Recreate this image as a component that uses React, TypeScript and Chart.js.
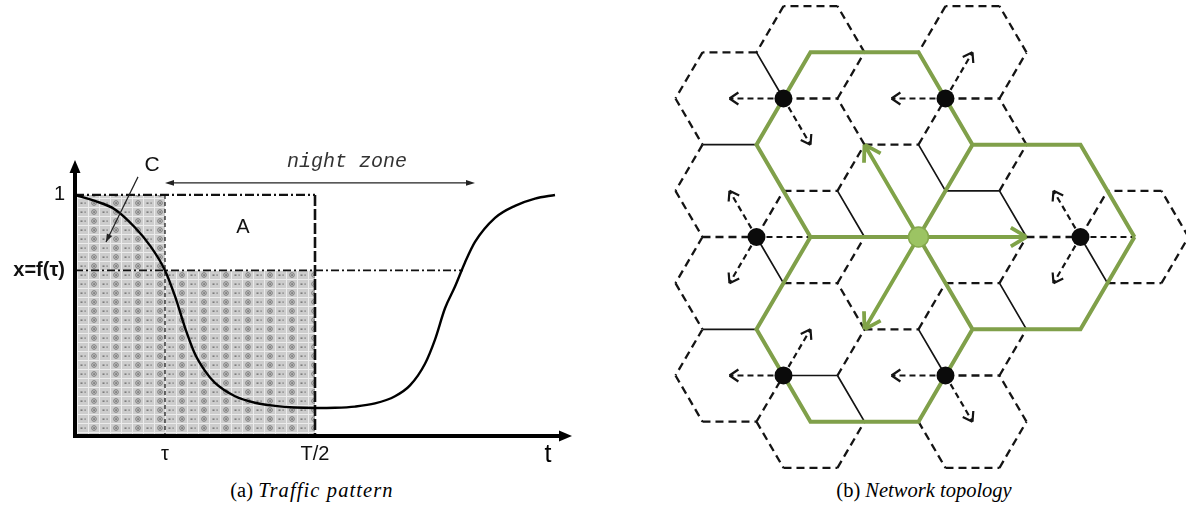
import React, { useEffect, useRef } from "react";
import { Chart, registerables } from "chart.js";

Chart.register(...registerables);

/* ---------- (a) traffic pattern ---------- */
// hour of the day, one period T = 24 h
const hours = [0, 1, 2, 3, 3.75, 4.5, 5, 5.5, 6, 6.5, 7, 8, 9, 10, 11, 12, 13, 14, 15, 16, 16.75, 17.5, 18, 18.5, 19, 19.5, 20, 21, 22, 23, 24];
// normalised traffic load
const load = [1.0, 0.975, 0.94, 0.865, 0.79, 0.687, 0.58, 0.45, 0.34, 0.27, 0.22, 0.165, 0.138, 0.125, 0.118, 0.116, 0.117, 0.122, 0.135, 0.165, 0.21, 0.3, 0.4, 0.53, 0.62, 0.72, 0.805, 0.905, 0.955, 0.985, 1.0];
const TAU = 4.5;
const HALF_T = 12;
const LOAD_AT_TAU = 0.687;
const LOAD_BACK_AT = 19.4; // hour at which the load climbs back to f(tau)
const NIGHT_FROM = 4.5;
const NIGHT_TO = 20;
const xTicks = [TAU, HALF_T];
const xTickText = ["τ", "T/2"];
const yTicks = [LOAD_AT_TAU, 1];
const yTickText = ["x=f(τ)", "1"];

/* ---------- (b) network topology ---------- */
const SQ3 = Math.sqrt(3);
// small cells of a flat-top hexagonal lattice: column and row (a row step is half a cell height)
const cellCol = [-1, -1, -1, -1, 0, 0, 0, 0, 0, 1, 1, 1, 1, 2, 2, 2, 2, 2, 3, 3, 4];
const cellRow = [-1, 1, 3, 5, -2, 0, 2, 4, 6, -1, 1, 3, 5, -2, 0, 2, 4, 6, 1, 3, 2];
// sides drawn as thin solid lines: column, row, side (0 = upper-right, 1 = top, ... counter-clockwise)
const solidSides = [
  [-1, -1, 0], [-1, -1, 4], [0, 2, 0], [1, 1, 0], [2, 2, 1], [2, 2, 0], [2, 4, 0],
  [3, 3, 0], [1, 5, 0], [-1, 3, 0], [-1, 3, 4], [0, 6, 0], [0, 6, 1],
];
// sleeping base stations on lattice corners: column, row, corner (0 = right, 3 = left)
const stationCorner = [[-1, -1, 0], [1, -1, 0], [0, 2, 3], [4, 2, 3], [-1, 5, 0], [1, 5, 0]];
// neighbour cells each station hands over to (arrows)
const stationArrows = [
  [[-1, -1], [0, 0]],
  [[1, -1], [2, -2]],
  [[-1, 1], [-1, 3]],
  [[3, 1], [3, 3]],
  [[-1, 5], [0, 4]],
  [[1, 5], [2, 6]],
];
// third neighbour cell of each station (plain link)
const stationLink = [[0, -2], [2, 0], [0, 2], [4, 2], [0, 6], [2, 4]];
// zoomed cells around the active station at the origin
const bigCenterX = [-1, 2, -1];
const bigCenterY = [SQ3, 0, -SQ3];
const BIG_RADIUS = 2;

type P = { x: number | null; y: number | null };

const cellCenter = (c: number, k: number) => ({ x: -2 + 1.5 * c, y: SQ3 - (SQ3 / 2) * k });
const hexCorner = (cx: number, cy: number, r: number, i: number) => ({
  x: cx + r * Math.cos((i * Math.PI) / 3),
  y: cy + r * Math.sin((i * Math.PI) / 3),
});
const keyOf = (p: { x: number; y: number }) => `${Math.round(p.x * 1000)},${Math.round(p.y * 1000)}`;
const edgeKey = (a: any, b: any) => {
  const p = keyOf(a), q = keyOf(b);
  return p < q ? p + "|" + q : q + "|" + p;
};
const toPath = (segs: any[][]): P[] => {
  const out: P[] = [];
  segs.forEach((s) => {
    s.forEach((p) => out.push({ x: p.x, y: p.y }));
    out.push({ x: null, y: null });
  });
  return out;
};
const chevron = (from: any, to: any, len: number, spread: number) => {
  const a = Math.atan2(to.y - from.y, to.x - from.x);
  return [a + Math.PI - spread, a + Math.PI + spread].map((t) => [
    to,
    { x: to.x + len * Math.cos(t), y: to.y + len * Math.sin(t) },
  ]);
};

// dotted grey texture used for area C
function stipple(ctx: CanvasRenderingContext2D) {
  const c = document.createElement("canvas");
  c.width = 22;
  c.height = 9;
  const g = c.getContext("2d")!;
  g.fillStyle = "#cdcdcd";
  g.fillRect(0, 0, 22, 9);
  g.fillStyle = "#ececec";
  g.fillRect(0, 0, 22, 1);
  g.fillRect(0, 0, 1, 9);
  g.fillRect(11, 0, 1, 9);
  g.strokeStyle = "#7a7a7a";
  g.lineWidth = 1;
  g.beginPath();
  g.arc(6, 5, 2.3, 0, Math.PI * 2);
  g.stroke();
  g.fillStyle = "#333";
  g.fillRect(5.4, 4.4, 1.3, 1.3);
  g.fillStyle = "#6a6a6a";
  g.fillRect(14.5, 4.5, 2, 1.3);
  g.fillRect(18.5, 4.5, 1.2, 1.2);
  return ctx.createPattern(c, "repeat")!;
}

const trafficDecor = {
  id: "trafficDecor",
  afterDatasetsDraw(chart: any) {
    const { ctx } = chart;
    const xs = chart.scales.x, ys = chart.scales.y;
    const X = (v: number) => xs.getPixelForValue(v);
    const Y = (v: number) => ys.getPixelForValue(v);
    const head = (tx: number, ty: number, dx: number, dy: number, len: number, half: number) => {
      ctx.beginPath();
      ctx.moveTo(tx, ty);
      ctx.lineTo(tx - dx * len - dy * half, ty - dy * len + dx * half);
      ctx.lineTo(tx - dx * len + dy * half, ty - dy * len - dx * half);
      ctx.closePath();
      ctx.fill();
    };
    ctx.save();
    ctx.strokeStyle = "#000";
    ctx.fillStyle = "#000";
    // axes with arrow tips
    const ox = X(0), oy = Y(0), xr = X(xs.max), yt = Y(ys.max);
    ctx.lineWidth = 4;
    ctx.beginPath();
    ctx.moveTo(ox, oy + 2);
    ctx.lineTo(ox, yt + 10);
    ctx.moveTo(ox - 2, oy);
    ctx.lineTo(xr - 10, oy);
    ctx.stroke();
    head(ox, yt, 0, -1, 13, 5.5);
    head(xr, oy, 1, 0, 13, 5.5);
    // axis name
    ctx.font = "25px 'Liberation Sans', Arial, sans-serif";
    ctx.textAlign = "center";
    ctx.textBaseline = "middle";
    ctx.fillText("t", xr - 24, oy + 19);

    // night zone span
    const ny = Y(1.05);
    ctx.lineWidth = 1.1;
    ctx.strokeStyle = "#222";
    ctx.fillStyle = "#222";
    ctx.beginPath();
    ctx.moveTo(X(NIGHT_FROM) + 4, ny);
    ctx.lineTo(X(NIGHT_TO) - 4, ny);
    ctx.stroke();
    head(X(NIGHT_FROM), ny, -1, 0, 9, 2.8);
    head(X(NIGHT_TO), ny, 1, 0, 9, 2.8);
    ctx.font = "italic 20px 'Liberation Mono', 'Courier New', monospace";
    ctx.fillStyle = "#333";
    ctx.textBaseline = "alphabetic";
    ctx.fillText("night zone", X(13.6), ny - 16);

    // area labels
    ctx.fillStyle = "#111";
    ctx.textBaseline = "middle";
    ctx.font = "21px 'Liberation Sans', Arial, sans-serif";
    ctx.fillText("C", X(3.85), Y(1.124));
    ctx.font = "20px 'Liberation Sans', Arial, sans-serif";
    ctx.fillText("A", X(8.4), Y(0.863));
    // pointer from C into its area
    const ax = X(3.15), ay = Y(1.075), bx = X(1.55), by = Y(0.805);
    const L = Math.hypot(bx - ax, by - ay);
    ctx.strokeStyle = "#222";
    ctx.lineWidth = 1.2;
    ctx.beginPath();
    ctx.moveTo(ax, ay);
    ctx.lineTo(bx, by);
    ctx.stroke();
    ctx.fillStyle = "#222";
    head(bx, by, (bx - ax) / L, (by - ay) / L, 8, 3);
    ctx.restore();
  },
};

export default function App() {
  const leftRef = useRef<HTMLCanvasElement>(null);
  const rightRef = useRef<HTMLCanvasElement>(null);

  useEffect(() => {
    const lctx = leftRef.current!.getContext("2d")!;
    const pattern = stipple(lctx);
    const pts = (xs: number[], ys: number[]) => xs.map((x, i) => ({ x, y: ys[i] }));
    const line = (data: any[], color: string, width: number, dash: number[], order: number, extra: any = {}) => ({
      data,
      showLine: true,
      borderColor: color,
      borderWidth: width,
      borderDash: dash,
      borderCapStyle: "butt",
      pointRadius: 0,
      pointHoverRadius: 0,
      fill: false,
      order,
      ...extra,
    });

    const left = new Chart(leftRef.current!, {
      type: "scatter",
      data: {
        datasets: [
          // area C: everything served below the switch-off threshold
          line(
            pts([0, TAU, TAU, HALF_T, HALF_T], [1, 1, LOAD_AT_TAU, LOAD_AT_TAU, 0]),
            "rgba(0,0,0,0)",
            0,
            [],
            9,
            { fill: "origin", backgroundColor: pattern }
          ),
          line(pts([0, HALF_T], [1, 1]), "#111", 2.2, [9, 3, 2, 3], 5),
          line(pts([HALF_T, HALF_T], [1, 0]), "#111", 2.6, [11, 3], 4),
          line(pts([TAU, TAU], [1, 0]), "#111", 1.2, [4, 3], 3),
          line(pts([0, LOAD_BACK_AT], [LOAD_AT_TAU, LOAD_AT_TAU]), "#111", 1.9, [8, 3, 2, 3], 2),
          line(pts(hours, load), "#000", 2.4, [], 0, { cubicInterpolationMode: "monotone" }),
        ] as any,
      },
      options: {
        responsive: false,
        animation: false,
        devicePixelRatio: 1,
        events: [],
        layout: { autoPadding: false, padding: { left: 0, right: 28, top: 160, bottom: 0 } },
        plugins: { legend: { display: false }, tooltip: { enabled: false } },
        scales: {
          x: {
            type: "linear",
            min: 0,
            max: 24.85,
            afterFit: (s: any) => {
              s.height = 34;
            },
            afterBuildTicks: (s: any) => {
              s.ticks = xTicks.map((value) => ({ value }));
            },
            ticks: {
              autoSkip: false,
              maxRotation: 0,
              padding: 6,
              color: "#111",
              font: { family: "'Liberation Sans', Arial, sans-serif", size: 20 },
              callback: (_v: any, i: number) => xTickText[i],
            },
            grid: { display: false, drawTicks: false },
            border: { display: false },
          },
          y: {
            type: "linear",
            min: 0,
            max: 1.145,
            afterFit: (s: any) => {
              s.width = 75;
            },
            afterBuildTicks: (s: any) => {
              s.ticks = yTicks.map((value) => ({ value }));
            },
            ticks: {
              autoSkip: false,
              padding: 10,
              color: "#111",
              font: (c: any) => ({
                family: "'Liberation Sans', Arial, sans-serif",
                size: 20,
                weight: c.index === 0 ? "bold" : "normal",
              }),
              callback: (_v: any, i: number) => yTickText[i],
            },
            grid: { display: false, drawTicks: false },
            border: { display: false },
          },
        },
      } as any,
      plugins: [trafficDecor],
    });

    /* network topology */
    const solidKeys = new Set(
      solidSides.map(([c, k, e]) => {
        const m = cellCenter(c, k);
        return edgeKey(hexCorner(m.x, m.y, 1, e), hexCorner(m.x, m.y, 1, (e + 1) % 6));
      })
    );
    const seen = new Set<string>();
    const dashedSegs: any[][] = [];
    const solidSegs: any[][] = [];
    cellCol.forEach((c, i) => {
      const m = cellCenter(c, cellRow[i]);
      for (let e = 0; e < 6; e++) {
        const a = hexCorner(m.x, m.y, 1, e), b = hexCorner(m.x, m.y, 1, (e + 1) % 6);
        const key = edgeKey(a, b);
        if (seen.has(key)) continue;
        seen.add(key);
        (solidKeys.has(key) ? solidSegs : dashedSegs).push([a, b]);
      }
    });

    const stations = stationCorner.map(([c, k, v]) => {
      const m = cellCenter(c, k);
      return hexCorner(m.x, m.y, 1, v);
    });
    const arrowSegs: any[][] = [];
    const arrowHeads: any[][] = [];
    stations.forEach((s, i) => {
      stationArrows[i].forEach(([c, k]) => {
        const t = cellCenter(c, k);
        arrowSegs.push([s, t]);
        arrowHeads.push(...chevron(s, t, 0.2, 0.6));
      });
      const [lc, lk] = stationLink[i];
      arrowSegs.push([s, cellCenter(lc, lk)]);
    });

    const greenSegs: any[][] = [];
    const greenArrows: any[][] = [];
    const origin = { x: 0, y: 0 };
    bigCenterX.forEach((cx, i) => {
      const cy = bigCenterY[i];
      const ring = [0, 1, 2, 3, 4, 5, 6].map((j) => hexCorner(cx, cy, BIG_RADIUS, j));
      greenSegs.push(ring);
      const tip = { x: cx, y: cy };
      greenArrows.push([origin, tip]);
      greenArrows.push(...chevron(origin, tip, 0.34, 0.55));
    });

    const right = new Chart(rightRef.current!, {
      type: "scatter",
      data: {
        datasets: [
          line(toPath(dashedSegs), "#141414", 2.3, [8, 5], 7),
          line(toPath(solidSegs), "#141414", 1.7, [], 6),
          line(toPath(arrowSegs), "#141414", 2.2, [6, 4], 5),
          line(toPath(arrowHeads), "#141414", 2.2, [], 4),
          line(toPath(greenSegs), "#80a04a", 4, [], 3, { borderJoinStyle: "miter" }),
          line(toPath(greenArrows), "#80a348", 3.8, [], 2),
          {
            data: stations,
            showLine: false,
            pointRadius: 9,
            pointHoverRadius: 9,
            pointBackgroundColor: "#0b0b0b",
            pointBorderWidth: 0,
            order: 1,
          },
          {
            data: [origin],
            showLine: false,
            pointRadius: 10,
            pointHoverRadius: 10,
            pointBackgroundColor: "#9cc463",
            pointBorderColor: "#84a84c",
            pointBorderWidth: 1.5,
            order: 0,
          },
        ] as any,
      },
      options: {
        responsive: false,
        animation: false,
        devicePixelRatio: 1,
        events: [],
        layout: { autoPadding: false, padding: 0 },
        plugins: { legend: { display: false }, tooltip: { enabled: false } },
        scales: {
          x: { type: "linear", min: -5.157, max: 4.954, display: false },
          y: { type: "linear", min: -4.465, max: 4.446, display: false },
        },
      } as any,
    });

    return () => {
      left.destroy();
      right.destroy();
    };
  }, []);

  const caption: React.CSSProperties = {
    position: "absolute",
    top: 479,
    width: 400,
    textAlign: "center",
    fontFamily: "'Liberation Serif', 'DejaVu Serif', serif",
    fontSize: 20.5,
    lineHeight: "22px",
    color: "#000",
  };

  return (
    <div style={{ position: "absolute", left: 0, top: 0, width: 1186, height: 511, background: "#fff", overflow: "hidden" }}>
      <canvas ref={leftRef} width={600} height={470} style={{ position: "absolute", left: 0, top: 0, width: 600, height: 470 }} />
      <canvas ref={rightRef} width={546} height={475} style={{ position: "absolute", left: 640, top: 0, width: 546, height: 475 }} />
      <div style={{ ...caption, left: 112 }}>
        (a) <i style={{ letterSpacing: "1.1px" }}>Traffic pattern</i>
      </div>
      <div style={{ ...caption, left: 724 }}>
        (b) <i>Network topology</i>
      </div>
    </div>
  );
}
